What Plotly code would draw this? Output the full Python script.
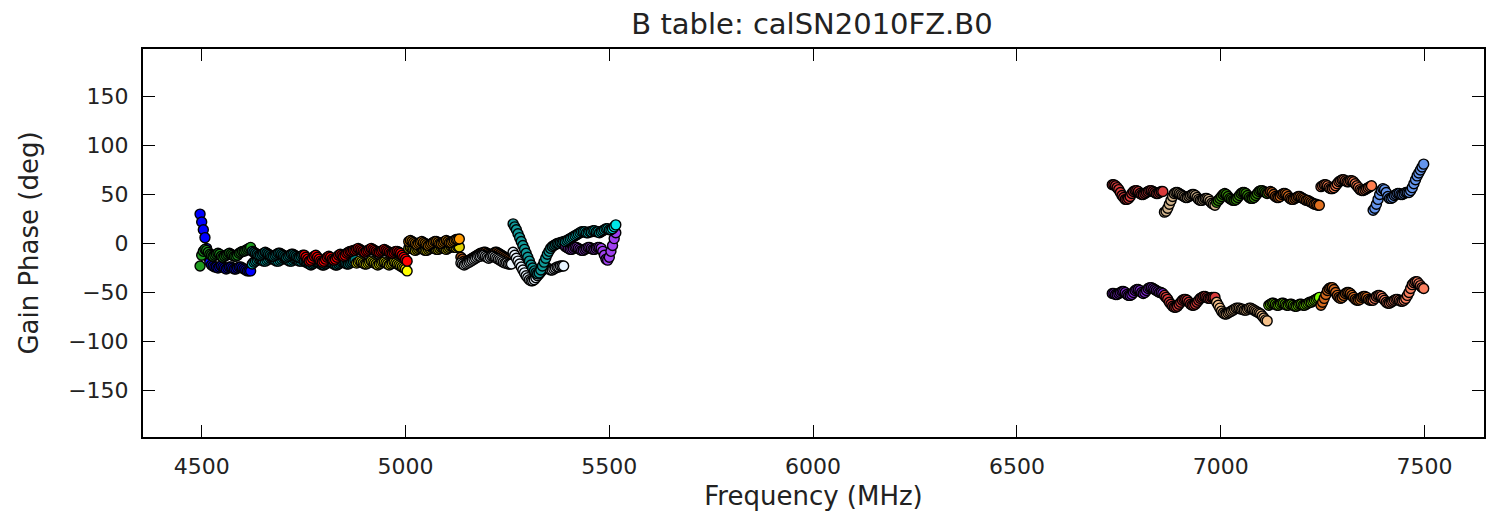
import plotly.graph_objects as go

# ---- channelisation (MHz) ----
lower_band_start = 4494.0
upper_band_start = 6732.0
spw_width = 128.0
n_chan = 32
chan_width = spw_width / n_chan

# ---- lower baseband, gain phase (deg) per spw, two correlations ----
lo0_a = [-23, -12, -8, -6, -7, -9, -11, -12, -13, -12, -11, -10, -11, -13, -14, -13,
         -12, -11, -10, -11, -12, -13, -13, -12, -10, -9, -8, -8, -7, -6, -5, -4]
lo0_b = [30, 22, 14, 6, -5, -14, -19, -22, -23, -24, -24, -25, -24, -23, -24, -25,
         -26, -25, -24, -24, -25, -26, -26, -25, -24, -24, -25, -26, -27, -28, -28, -28]
lo1_a = [-8, -9, -10, -11, -12, -12, -11, -10, -9, -10, -11, -12, -13, -13, -12, -11,
         -10, -10, -11, -12, -13, -14, -13, -12, -11, -11, -12, -13, -14, -14, -13, -12]
lo1_b = [-21, -19, -18, -17, -16, -16, -17, -18, -18, -17, -16, -15, -15, -16, -17, -18,
         -18, -17, -16, -15, -15, -16, -17, -18, -18, -17, -16, -16, -17, -18, -18, -17]
lo2_a = [-12, -14, -16, -18, -17, -15, -13, -12, -14, -16, -18, -19, -18, -16, -14, -13,
         -14, -16, -17, -16, -14, -12, -11, -12, -13, -12, -10, -9, -8, -8, -7, -7]
lo2_b = [-18, -19, -20, -21, -22, -21, -20, -19, -19, -20, -21, -22, -22, -21, -20, -19,
         -19, -20, -21, -22, -22, -21, -20, -19, -19, -20, -21, -21, -20, -19, -18, -17]
lo3_a = [-6, -5, -6, -7, -8, -9, -8, -7, -6, -5, -6, -7, -8, -9, -9, -8,
         -7, -6, -7, -8, -9, -10, -10, -9, -8, -8, -9, -10, -12, -14, -16, -18]
lo3_b = [-20, -19, -18, -19, -20, -21, -21, -20, -19, -18, -19, -20, -21, -22, -21, -20,
         -19, -19, -20, -21, -22, -21, -20, -19, -20, -21, -22, -23, -24, -25, -26, -28]
lo4_a = [2, 3, 2, 1, 0, -1, 0, 1, 2, 1, 0, -1, -2, -1, 0, 1,
         2, 2, 1, 0, 0, 1, 2, 3, 2, 1, 1, 2, 3, 4, 4, 4.6]
lo4_b = [-5, -4, -5, -6, -7, -6, -5, -4, -5, -6, -7, -7, -6, -5, -4, -4,
         -5, -6, -6, -5, -4, -4, -5, -6, -5, -4, -3, -3, -4, -4, -3, -3.6]
lo5_a = [-14, -16, -18, -19, -18, -17, -16, -15, -14, -13, -12, -11, -10, -10, -9, -9,
         -10, -11, -12, -11, -10, -9, -9, -10, -11, -12, -13, -14, -15, -16, -17, -18]
lo5_b = [-20, -21, -22, -21, -20, -19, -18, -17, -16, -15, -14, -13, -13, -12, -12, -13,
         -14, -15, -14, -13, -13, -14, -15, -16, -17, -18, -19, -20, -20, -21, -21, -21]
lo6_a = [20, 17, 14, 10, 6, 2, -2, -6, -10, -14, -18, -22, -25, -28, -30, -31,
         -30, -27, -23, -19, -15, -11, -8, -5, -3, -2, -1, 0, 0, 1, 1, 2]
lo6_b = [-9, -12, -15, -18, -21, -24, -27, -30, -33, -35, -37, -38, -38, -37, -35, -33,
         -31, -29, -27, -26, -25, -25, -26, -27, -27, -26, -25, -24, -24, -23, -23, -23]
lo7_a = [2, 3, 4, 5, 6, 7, 8, 9, 10, 11, 12, 12, 12, 11, 11, 12,
         12, 13, 13, 12, 12, 11, 12, 13, 14, 15, 15, 14, 14, 15, 17, 19]
lo7_b = [-3, -4, -5, -6, -6, -5, -4, -4, -5, -6, -7, -7, -6, -5, -4, -4,
         -5, -6, -6, -5, -4, -4, -5, -8, -12, -16, -17, -14, -8, -2, 5, 11]

# ---- upper baseband ----
up0_a = [60, 60, 59, 57, 55, 52, 49, 47, 45, 45, 46, 48, 51, 53, 54, 54,
         53, 51, 50, 50, 51, 52, 53, 54, 54, 53, 52, 51, 51, 52, 53, 53]
up0_b = [-51, -51, -52, -52, -51, -50, -49, -49, -50, -52, -53, -53, -52, -50, -48, -47,
         -47, -48, -50, -51, -50, -48, -46, -45, -45, -46, -47, -48, -49, -50, -50, -51]
up1_a = [32, 33, 36, 40, 44, 48, 51, 52, 52, 51, 50, 49, 48, 47, 47, 48,
         49, 50, 50, 49, 47, 45, 44, 44, 45, 46, 46, 45, 43, 41, 40, 39]
up1_b = [-53, -55, -57, -60, -62, -64, -65, -65, -64, -62, -60, -58, -57, -57, -58, -60,
         -62, -63, -63, -62, -60, -58, -56, -55, -54, -54, -55, -56, -56, -55, -55, -55]
up2_a = [42, 44, 46, 48, 50, 51, 50, 48, 46, 45, 44, 44, 45, 47, 49, 51,
         52, 52, 51, 49, 47, 46, 46, 47, 49, 51, 53, 54, 54, 53, 52, 51]
up2_b = [-60, -63, -66, -69, -71, -72, -72, -71, -70, -69, -68, -67, -66, -66, -66, -67,
         -67, -68, -68, -67, -66, -66, -67, -68, -69, -70, -71, -72, -74, -76, -78, -79]
up3_a = [52, 53, 52, 50, 48, 47, 47, 48, 50, 51, 51, 50, 48, 46, 45, 45,
         46, 47, 48, 48, 47, 46, 45, 44, 44, 43, 42, 41, 40, 40, 39, 39]
up3_b = [-63, -62, -61, -61, -62, -63, -63, -62, -61, -61, -62, -63, -63, -62, -62, -63,
         -64, -64, -63, -62, -62, -63, -63, -62, -61, -60, -60, -59, -58, -57, -56, -55]
up4_a = [58, 59, 60, 60, 59, 57, 56, 56, 57, 59, 61, 63, 64, 65, 65, 64,
         63, 63, 64, 64, 63, 61, 59, 57, 55, 54, 54, 55, 56, 57, 58, 59]
up4_b = [-63, -60, -56, -52, -48, -46, -45, -45, -47, -50, -53, -55, -56, -55, -53, -51,
         -50, -50, -51, -53, -55, -57, -58, -58, -57, -55, -54, -54, -55, -57, -58, -58]
up5_a = [34, 36, 40, 45, 50, 54, 56, 55, 52, 48, 46, 46, 47, 49, 50, 51,
         51, 50, 50, 51, 52, 52, 52, 54, 57, 61, 65, 69, 72, 75, 78, 81]
up5_b = [-58, -56, -54, -53, -53, -54, -56, -58, -60, -61, -61, -60, -59, -58, -57, -57,
         -58, -59, -59, -58, -56, -53, -50, -46, -42, -40, -39, -39, -41, -43, -45, -46]

# ---- axis ticks ----
x_ticks = [4500, 5000, 5500, 6000, 6500, 7000, 7500]
y_ticks = [-150, -100, -50, 0, 50, 100, 150]

# (band start, spw index within band, values, colour) in drawing order
segments = [
    (lower_band_start, 0, lo0_b, "#0000ff"), (lower_band_start, 0, lo0_a, "#1e9a1e"),
    (lower_band_start, 1, lo1_b, "#00c8c8"), (lower_band_start, 1, lo1_a, "#008b8b"),
    (lower_band_start, 2, lo2_b, "#008080"), (lower_band_start, 2, lo2_a, "#ff0000"),
    (lower_band_start, 3, lo3_b, "#ffff00"), (lower_band_start, 3, lo3_a, "#ff0000"),
    (lower_band_start, 4, lo4_b, "#e0d000"), (lower_band_start, 4, lo4_a, "#ff9900"),
    (lower_band_start, 5, lo5_a, "#b05a20"), (lower_band_start, 5, lo5_b, "#f0f8ff"),
    (lower_band_start, 6, lo6_b, "#e8f4ff"), (lower_band_start, 6, lo6_a, "#119999"),
    (lower_band_start, 7, lo7_b, "#a040f0"), (lower_band_start, 7, lo7_a, "#00e5e5"),
    (upper_band_start, 0, up0_a, "#d93b3b"), (upper_band_start, 0, up0_b, "#8a2be2"),
    (upper_band_start, 1, up1_a, "#d2b48c"), (upper_band_start, 1, up1_b, "#d93b3b"),
    (upper_band_start, 2, up2_a, "#3a9a0a"), (upper_band_start, 2, up2_b, "#f5c08a"),
    (upper_band_start, 3, up3_a, "#e07020"), (upper_band_start, 3, up3_b, "#7cfc00"),
    (upper_band_start, 4, up4_a, "#ff7f50"), (upper_band_start, 4, up4_b, "#d2691e"),
    (upper_band_start, 5, up5_a, "#6495ed"), (upper_band_start, 5, up5_b, "#fa8060"),
]

fig = go.Figure()
for band_start, spw, vals, col in segments:
    freqs = [band_start + spw * spw_width + (i + 0.5) * chan_width for i in range(len(vals))]
    fig.add_trace(go.Scatter(
        x=freqs, y=vals, mode="markers", showlegend=False,
        marker=dict(size=10, color=col, line=dict(color="black", width=1.4)),
    ))

font_family = "DejaVu Sans"
axis_common = dict(
    showgrid=False, zeroline=False, showline=True, linecolor="black", linewidth=2,
    mirror="ticks", ticks="inside", ticklen=12, tickwidth=1, tickcolor="black",
    automargin=False,
    tickfont=dict(family=font_family, size=22, color="#222222"),
)

fig.update_layout(
    width=1494, height=519,
    margin=dict(l=143, r=10, t=49, b=82),
    paper_bgcolor="white", plot_bgcolor="white",
    title=dict(text="B table: calSN2010FZ.B0", x=812 / 1494, xanchor="center",
               y=1 - 24 / 519, yref="container", yanchor="middle",
               font=dict(family=font_family, size=29, color="#222222")),
    xaxis=dict(range=[4356, 7646], tickvals=x_ticks,
               ticktext=[str(v) for v in x_ticks], ticklabelstandoff=9,
               title=dict(text="Frequency (MHz)", standoff=8,
                          font=dict(family=font_family, size=26, color="#222222")),
               **axis_common),
    yaxis=dict(range=[-197.5, 198.5], tickvals=y_ticks,
               ticktext=[str(v).replace("-", "\u2212") for v in y_ticks], ticklabelstandoff=8,
               title=dict(text="Gain Phase (deg)", standoff=22,
                          font=dict(family=font_family, size=26, color="#222222")),
               **axis_common),
)

fig.write_html("out.html", config={"displayModeBar": False},
               post_script="document.body.style.margin='0';")
